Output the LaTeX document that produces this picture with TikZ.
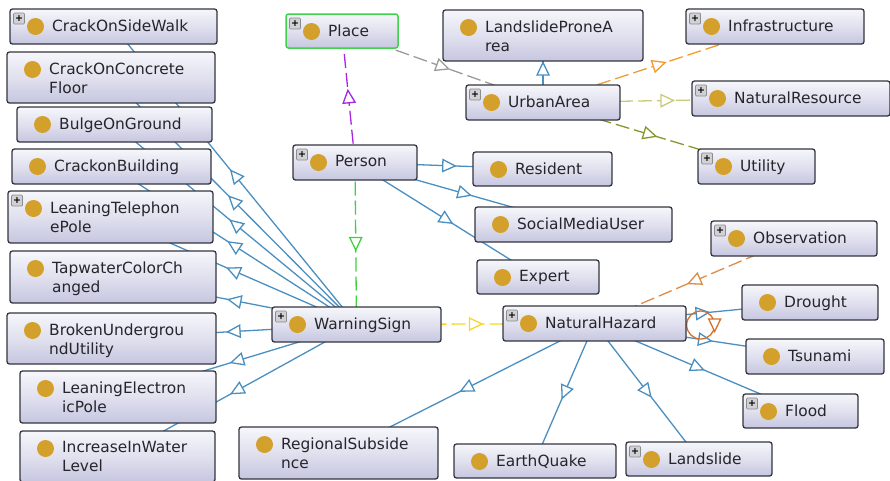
\documentclass[tikz,border=0pt]{standalone}
\usepackage{fontspec}
\setmainfont{DejaVu Sans}
\newfontfamily\plusfont{DejaVu Sans Bold}
\usetikzlibrary{backgrounds,decorations.markings}
\definecolor{edgeblue}{HTML}{4A8FC0}
\definecolor{boxline}{HTML}{33353F}
\definecolor{boxtop}{HTML}{F6F6FB}
\definecolor{boxbot}{HTML}{C6C6E0}
\definecolor{dotgold}{HTML}{D4A02C}
\definecolor{txt}{HTML}{25252B}
\definecolor{placegreen}{HTML}{3FD24A}
\definecolor{e1}{HTML}{F39A30}
\definecolor{e2}{HTML}{C9CB78}
\definecolor{e3}{HTML}{87962A}
\definecolor{e4}{HTML}{F8D820}
\definecolor{e5}{HTML}{DB8C45}
\definecolor{e6}{HTML}{D9702A}
\definecolor{e7}{HTML}{A428E0}
\definecolor{e8}{HTML}{3CD43C}
\definecolor{e9}{HTML}{9A9A9A}
\tikzset{
  box/.style={draw=boxline,line width=1.3pt,rounded corners=2.5pt,top color=boxtop,bottom color=boxbot,middle color=boxtop!55!boxbot,inner sep=0pt},
  lbl/.style={anchor=north west,align=left,inner sep=0pt,text=txt,font=\fontsize{15.4}{19}\selectfont},
  dot/.style={circle,fill=dotgold,minimum size=17pt,inner sep=0pt},
  plusbox/.style={draw=black!45,fill=blue!8!black!18,line width=.7pt,rounded corners=1pt,minimum size=11pt,inner sep=0pt,text=black,font=\plusfont\fontsize{9.5}{9.5}\selectfont},
  tri/.style={postaction={decorate,decoration={markings,mark=at position 0.5 with {\draw[solid,fill=white,line width=1.3pt] (-6pt,-6pt)--(6.5pt,0pt)--(-6pt,6pt)--cycle;}}}},
  isa/.style={draw=edgeblue,line width=1.3pt,tri},
  dashedge/.style={draw=#1,line width=1.3pt,dash pattern=on 14pt off 5pt,tri}
}
% optional style, name, x1, y1, x2, y2, text
\newcommand{\ontobox}[7][]{%
  \node[box,#1,minimum width={#5-#3},minimum height={#6-#4}] (#2) at ({(#3+#5)/2},{(#4+#6)/2}) {};
  \node[dot] (#2dot) at ({#3+25.5},{#4+17.5}) {};
  \node[lbl] (#2txt) at ({#3+42},{#4+10.5}) {#7};
}
\newcommand{\plusicon}[3]{\node[plusbox] (#1plus) at ({#2+9},{#3+9.5}) {+};}
\begin{document}
\begin{tikzpicture}[x=1pt,y=-1pt]
\useasboundingbox (0,0) rectangle (890,480);
\ontobox{sidewalk}{10}{9}{217}{44}{CrackOnSideWalk}\plusicon{sidewalk}{10}{9}
\ontobox{concrete}{7}{52}{215}{103}{CrackOnConcrete\\Floor}
\ontobox{bulge}{17}{107}{212}{142}{BulgeOnGround}
\ontobox{building}{12}{149}{211}{184}{CrackonBuilding}
\ontobox{telephone}{8}{191}{213}{243}{LeaningTelephon\\ePole}\plusicon{telephone}{8}{191}
\ontobox{tapwater}{10}{251}{216}{303}{TapwaterColorCh\\anged}
\ontobox{broken}{7}{313}{216}{364}{BrokenUndergrou\\ndUtility}
\ontobox{electron}{20}{371}{216}{423}{LeaningElectron\\icPole}
\ontobox{water}{20}{431}{215}{482}{IncreaseInWater\\Level}
\ontobox{warning}{272}{307}{441}{342}{WarningSign}\plusicon{warning}{272}{307}
\ontobox{regional}{239}{427}{438}{479}{RegionalSubside\\nce}
\ontobox[draw=placegreen,line width=1.5pt]{place}{286}{14}{398}{48}{Place}\plusicon{place}{286}{14}
\ontobox{person}{293}{145}{417}{180}{Person}\plusicon{person}{293}{145}
\ontobox{prone}{443}{10}{643}{61}{LandslideProneA\\rea}
\ontobox{urban}{466}{85}{620}{120}{UrbanArea}\plusicon{urban}{466}{85}
\ontobox{infra}{686}{9}{864}{44}{Infrastructure}\plusicon{infra}{686}{9}
\ontobox{resource}{692}{81}{890}{116}{NaturalResource}\plusicon{resource}{692}{81}
\ontobox{utility}{698}{149}{815}{184}{Utility}\plusicon{utility}{698}{149}
\ontobox{resident}{473}{152}{612}{186}{Resident}
\ontobox{social}{475}{207}{672}{242}{SocialMediaUser}
\ontobox{observation}{711}{221}{877}{256}{Observation}\plusicon{observation}{711}{221}
\ontobox{expert}{477}{260}{599}{294}{Expert}
\ontobox{hazard}{503}{306}{686}{341}{NaturalHazard}\plusicon{hazard}{503}{306}
\ontobox{drought}{742}{285}{878}{320}{Drought}
\ontobox{tsunami}{746}{339}{884}{374}{Tsunami}
\ontobox{flood}{743}{394}{858}{428}{Flood}\plusicon{flood}{743}{394}
\ontobox{quake}{454}{444}{616}{478}{EarthQuake}
\ontobox{landslide}{626}{442}{772}{476}{Landslide}\plusicon{landslide}{626}{442}
\begin{scope}[on background layer]
\foreach \c in {sidewalk,concrete,bulge,building,telephone,tapwater,broken,electron,water}
  \draw[isa] (warning.center) -- (\c.center);
\foreach \c in {resident,social,expert}
  \draw[isa] (person.center) -- (\c.center);
\foreach \c in {drought,tsunami,flood,landslide,quake,regional}
  \draw[isa] (hazard.center) -- (\c.center);
\draw[isa] (urban.center) -- (prone.center);
\draw[dashedge=e7] (person.center) -- (place.center);
\draw[dashedge=e8] (person.center) -- (warning.center);
\draw[dashedge=e9] (place.center) -- (urban.center);
\draw[dashedge=e1] (urban.center) -- (infra.center);
\draw[dashedge=e2] (urban.center) -- (resource.center);
\draw[dashedge=e3] (urban.center) -- (utility.center);
\draw[dashedge=e4] (warning.center) -- (hazard.center);
\draw[dashedge=e5] (observation.center) -- (hazard.center);
\draw[draw=e6,line width=1.3pt,tri] ([yshift=-1.5pt]hazard.east) arc[start angle=180,delta angle=360,radius=14];
\end{scope}
\end{tikzpicture}
\end{document}
